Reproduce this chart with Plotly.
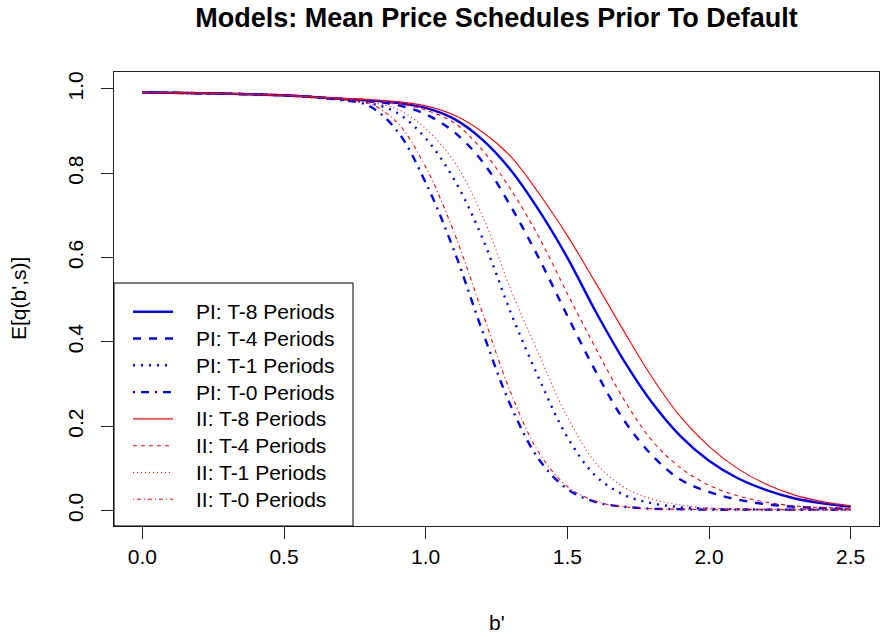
import plotly.graph_objects as go

# Borrowing grid b' and mean price schedules E[q(b',s)]
b_grid = [0.0, 0.1, 0.2, 0.3, 0.4, 0.5, 0.6, 0.7, 0.8, 0.9, 1.0, 1.1, 1.2,
          1.3, 1.4, 1.5, 1.6, 1.7, 1.8, 1.9, 2.0, 2.1, 2.2, 2.3, 2.4, 2.5]

pi_t8 = [0.992, 0.991, 0.990, 0.989, 0.987, 0.985, 0.981, 0.977, 0.973, 0.967,
         0.955, 0.929, 0.880, 0.808, 0.712, 0.600, 0.472, 0.355, 0.255, 0.176,
         0.118, 0.077, 0.049, 0.029, 0.017, 0.009]
pi_t4 = [0.992, 0.991, 0.990, 0.989, 0.987, 0.985, 0.981, 0.977, 0.971, 0.962,
         0.940, 0.898, 0.828, 0.722, 0.598, 0.462, 0.330, 0.214, 0.130, 0.073,
         0.044, 0.026, 0.015, 0.009, 0.006, 0.004]
pi_t1 = [0.992, 0.991, 0.990, 0.989, 0.987, 0.985, 0.981, 0.975, 0.967, 0.943,
         0.883, 0.786, 0.647, 0.470, 0.313, 0.174, 0.082, 0.037, 0.017, 0.008,
         0.004, 0.003, 0.002, 0.002, 0.002, 0.002]
pi_t0 = [0.992, 0.991, 0.990, 0.989, 0.987, 0.985, 0.981, 0.974, 0.960, 0.900,
         0.778, 0.617, 0.426, 0.249, 0.121, 0.051, 0.020, 0.009, 0.004, 0.003,
         0.002, 0.002, 0.002, 0.002, 0.002, 0.002]

ii_t8 = [0.992, 0.991, 0.990, 0.989, 0.987, 0.985, 0.981, 0.978, 0.975, 0.970,
         0.960, 0.938, 0.898, 0.840, 0.752, 0.652, 0.540, 0.425, 0.315, 0.222,
         0.152, 0.100, 0.063, 0.037, 0.021, 0.011]
ii_t4 = [0.992, 0.991, 0.990, 0.989, 0.987, 0.985, 0.981, 0.978, 0.974, 0.966,
         0.950, 0.920, 0.855, 0.762, 0.648, 0.515, 0.385, 0.263, 0.165, 0.101,
         0.060, 0.035, 0.020, 0.011, 0.007, 0.005]
ii_t1 = [0.992, 0.991, 0.990, 0.989, 0.987, 0.985, 0.981, 0.976, 0.969, 0.952,
         0.906, 0.828, 0.700, 0.525, 0.370, 0.222, 0.113, 0.055, 0.027, 0.013,
         0.006, 0.004, 0.003, 0.002, 0.002, 0.002]
ii_t0 = [0.992, 0.991, 0.990, 0.989, 0.987, 0.985, 0.981, 0.975, 0.966, 0.920,
         0.815, 0.660, 0.470, 0.280, 0.137, 0.057, 0.022, 0.009, 0.004, 0.003,
         0.002, 0.002, 0.002, 0.002, 0.002, 0.002]

series_names = ["PI: T-8 Periods", "PI: T-4 Periods", "PI: T-1 Periods", "PI: T-0 Periods",
                "II: T-8 Periods", "II: T-4 Periods", "II: T-1 Periods", "II: T-0 Periods"]
series_values = [pi_t8, pi_t4, pi_t1, pi_t0, ii_t8, ii_t4, ii_t1, ii_t0]

x_ticks = [0.0, 0.5, 1.0, 1.5, 2.0, 2.5]
y_ticks = [0.0, 0.2, 0.4, 0.6, 0.8, 1.0]

# line styles: R-like lty patterns (solid, dashed, dotted, dotdash)
BLUE, RED = "#0000FF", "#FF0000"
styles = [
    dict(color=BLUE, width=2.4, dash="solid"),
    dict(color=BLUE, width=2.4, dash="8px,8px"),
    dict(color=BLUE, width=2.4, dash="2px,6px"),
    dict(color=BLUE, width=2.4, dash="2px,6px,8px,6px"),
    dict(color=RED, width=1.1, dash="solid"),
    dict(color=RED, width=1.1, dash="4px,4px"),
    dict(color=RED, width=1.1, dash="1px,3px"),
    dict(color=RED, width=1.1, dash="1px,3px,4px,3px"),
]

FONT = "Liberation Sans, Arial, sans-serif"
FS = 21

fig = go.Figure()
for name, vals, st in zip(series_names, series_values, styles):
    fig.add_trace(go.Scatter(x=b_grid, y=vals, mode="lines", name=name,
                             line=dict(shape="spline", smoothing=1.0, **st),
                             showlegend=False))

# plot region in pixels
W, H = 880, 637
L, R, T, B = 114, 1, 72, 111
pw, ph = W - L - R, H - T - B

def px_x(px):
    return (px - L) / pw

def px_y(py):
    return (H - B - py) / ph

# legend box in the bottom-left corner
fig.add_shape(type="rect", xref="paper", yref="paper",
              x0=0, x1=px_x(353), y0=0, y1=px_y(283),
              line=dict(color="black", width=1), fillcolor="white", layer="above")
annotations = []
for i, (name, st) in enumerate(zip(series_names, styles)):
    yy = px_y(311.7 + i * 26.8)
    fig.add_shape(type="line", xref="paper", yref="paper",
                  x0=px_x(133), x1=px_x(173), y0=yy, y1=yy,
                  line=dict(color=st["color"], width=st["width"], dash=st["dash"]),
                  layer="above")
    annotations.append(dict(text=name, xref="paper", yref="paper", x=px_x(194), y=yy,
                            xanchor="left", yanchor="middle", showarrow=False,
                            font=dict(family=FONT, size=FS, color="black")))

# axis titles
annotations.append(dict(text="b'", xref="paper", yref="paper", x=0.5, y=px_y(622),
                        xanchor="center", yanchor="middle", showarrow=False,
                        font=dict(family=FONT, size=FS, color="black")))
annotations.append(dict(text="E[q(b',s)]", xref="paper", yref="paper", x=px_x(18),
                        y=0.5, xanchor="center", yanchor="middle", showarrow=False,
                        textangle=-90, font=dict(family=FONT, size=FS, color="black")))

fig.update_layout(
    width=W, height=H,
    margin=dict(l=L, r=R, t=T, b=B, pad=0),
    paper_bgcolor="white", plot_bgcolor="white",
    title=dict(text="Models: Mean Price Schedules Prior To Default",
               x=(L + pw / 2) / W, xanchor="center", y=1 - 18 / H, yanchor="middle",
               font=dict(family=FONT, size=27, color="black", weight="bold")),
    annotations=annotations,
    showlegend=False,
)
fig.update_xaxes(range=[-0.1, 2.6], tickvals=x_ticks, ticktext=[f"{v:.1f}" for v in x_ticks],
                 showgrid=False, zeroline=False, showline=True, mirror=True,
                 linecolor="#222", linewidth=1, ticks="outside", ticklen=12,
                 tickcolor="#222", tickfont=dict(family=FONT, size=FS, color="black"))
fig.update_yaxes(range=[-0.0368, 1.0403], tickvals=y_ticks, ticktext=[f"{v:.1f}" for v in y_ticks],
                 showgrid=False, zeroline=False, showline=True, mirror=True,
                 linecolor="#222", linewidth=1, ticks="outside", ticklen=12,
                 tickcolor="#222", tickangle=-90, ticklabelstandoff=10,
                 tickfont=dict(family=FONT, size=FS, color="black"))

fig.write_html("out.html")
